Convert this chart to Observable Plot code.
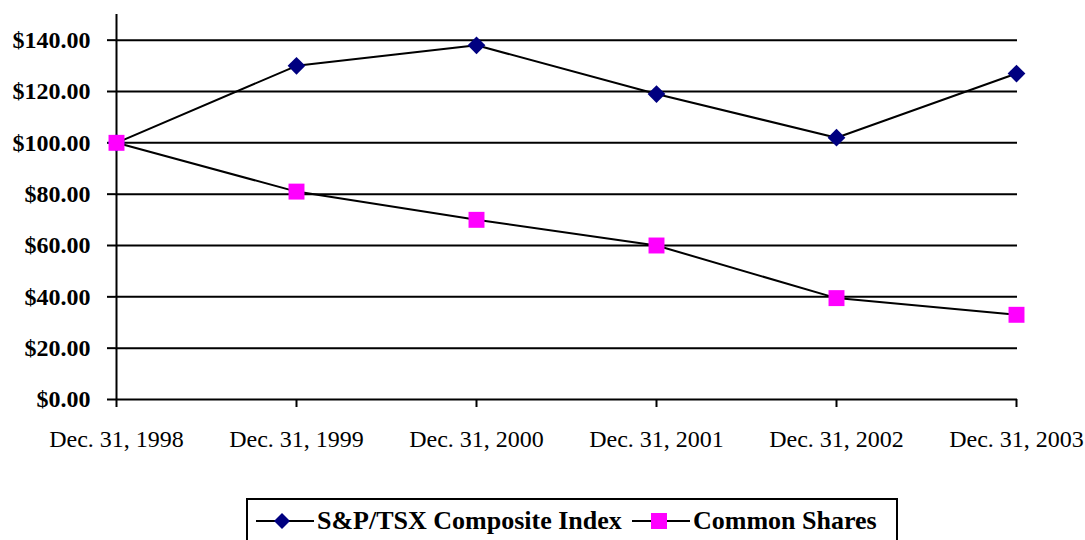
<!DOCTYPE html>
<html>
<head>
<meta charset="utf-8">
<script src="https://cdn.jsdelivr.net/npm/d3@7"></script>
<script src="https://cdn.jsdelivr.net/npm/@observablehq/plot@0.6"></script>
<style>
  body { margin: 0; background: #fff; font-family: "Liberation Serif", serif; }
  #wrap { position: relative; width: 1085px; height: 540px; overflow: hidden; }
  #legend { position: absolute; left: 246px; top: 498px; width: 652px; height: 60px; border: 2px solid #000; box-sizing: border-box; }
  #legend .item { position: absolute; top: 6px; display: flex; align-items: center; font-family: "Liberation Serif", serif; font-weight: bold; font-size: 26px; white-space: nowrap; }
  #legend svg { display: block; margin-right: 1px; }
  .yax text { font-family: "Liberation Serif", serif; font-size: 24px; font-weight: bold; }
  .xax text { font-family: "Liberation Serif", serif; font-size: 24px; font-weight: normal; }
</style>
</head>
<body>
<div id="wrap">
  <div id="chart"></div>
  <div id="legend"></div>
</div>
<script>
const dates = ["Dec. 31, 1998", "Dec. 31, 1999", "Dec. 31, 2000", "Dec. 31, 2001", "Dec. 31, 2002", "Dec. 31, 2003"];
const tsxIndex = [100, 130, 138, 119, 102, 127];
const commonShares = [100, 81, 70, 60, 39.5, 33];
const yTicks = [0, 20, 40, 60, 80, 100, 120, 140];
const seriesNames = ["S&P/TSX Composite Index", "Common Shares"];
const seriesColors = ["#000080", "#FF00FF"];

const tsxData = dates.map((d, i) => ({date: d, value: tsxIndex[i]}));
const sharesData = dates.map((d, i) => ({date: d, value: commonShares[i]}));

const chart = Plot.plot({
  width: 1085,
  height: 470,
  marginLeft: 115,
  marginRight: 68,
  marginTop: 14,
  marginBottom: 71,
  style: {fontFamily: "'Liberation Serif', serif", background: "#fff", color: "#000"},
  x: {type: "point", domain: dates, label: null, padding: 0},
  y: {domain: [0, 150], label: null},
  marks: [
    Plot.ruleY(yTicks, {stroke: "#000", strokeWidth: 2}),
    Plot.ruleX([dates[0]], {y1: 0, y2: 150, stroke: "#000", strokeWidth: 2}),
    Plot.axisY({ticks: yTicks, tickSize: 8, tickPadding: 17, tickFormat: d => "$" + d.toFixed(2), strokeWidth: 2, label: null, className: "yax"}),
    Plot.axisX({tickSize: 8, tickPadding: 22, strokeWidth: 2, label: null, className: "xax"}),
    Plot.line(tsxData, {x: "date", y: "value", stroke: "#000", strokeWidth: 2}),
    Plot.line(sharesData, {x: "date", y: "value", stroke: "#000", strokeWidth: 2}),
    Plot.dot(tsxData, {x: "date", y: "value", symbol: "diamond2", r: 8, fill: seriesColors[0], stroke: "none"}),
    Plot.dot(sharesData, {x: "date", y: "value", symbol: "square", r: 9, fill: seriesColors[1], stroke: "none"})
  ]
});
document.getElementById("chart").appendChild(chart);

// Legend
const legend = d3.select("#legend");
seriesNames.forEach((name, i) => {
  const item = legend.append("div").attr("class", "item").style("left", "8px");
  const svg = item.append("svg").attr("width", 60).attr("height", 22);
  svg.append("line").attr("x1", 0).attr("x2", 58).attr("y1", 11).attr("y2", 11).attr("stroke", "#000").attr("stroke-width", 2);
  if (i === 0) {
    svg.append("path").attr("d", "M26,3 L34,11 L26,19 L18,11 Z").attr("fill", seriesColors[0]);
  } else {
    svg.append("rect").attr("x", 19).attr("y", 3).attr("width", 16).attr("height", 16).attr("fill", seriesColors[1]);
  }
  item.append("span").text(name);
});
// place second item right after first
const items = document.querySelectorAll("#legend .item");
items[1].style.left = (items[0].offsetLeft + items[0].offsetWidth + 10) + "px";
</script>
</body>
</html>
